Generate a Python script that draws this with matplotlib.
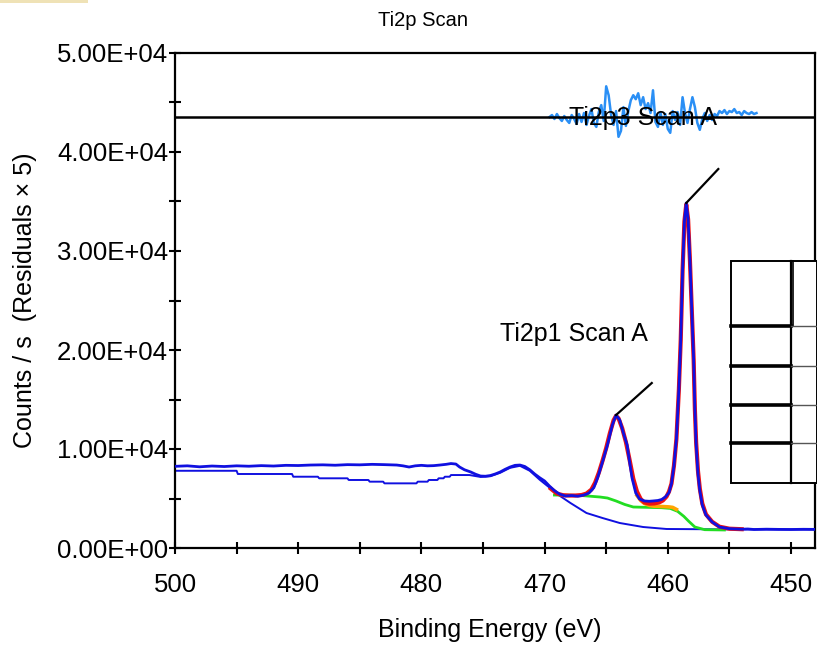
import numpy as np
import matplotlib
matplotlib.use("Agg")
import matplotlib.pyplot as plt
from matplotlib.patches import Rectangle
from matplotlib.lines import Line2D
from matplotlib.ticker import MultipleLocator, FuncFormatter

plt.rcParams['font.family'] = ['Liberation Sans', 'DejaVu Sans']

# ---- measured Ti2p spectrum (binding energy in eV, counts/s) ----
be_data = [500.0, 499.0, 498.0, 497.0, 496.0, 495.0, 494.0, 493.0, 492.0, 491.0,
           490.0, 489.0, 488.0, 487.0, 486.0, 485.0, 484.0, 483.0, 482.0, 481.5,
           481.0, 480.5, 480.0, 479.5, 479.0, 478.5, 478.0, 477.6, 477.2, 476.9,
           476.5, 476.0, 475.6, 475.2, 474.8, 474.4, 474.0, 473.6, 473.2, 472.8,
           472.4, 472.0, 471.6, 471.2, 470.8, 470.4, 470.0, 469.6, 469.2, 468.8,
           468.3, 467.8, 467.3, 466.8, 466.4, 466.0, 465.7, 465.3, 464.9, 464.5,
           464.2, 463.9, 463.6, 463.3, 463.1, 462.9, 462.6, 462.3, 461.9, 461.5,
           461.2, 460.8, 460.5, 460.2, 459.9, 459.7, 459.5, 459.3, 459.1, 458.95,
           458.8, 458.65, 458.5, 458.35, 458.2, 458.05, 457.9, 457.8, 457.7, 457.55,
           457.4, 457.2, 456.9, 456.4, 455.8, 455.0, 454.0, 453.5, 453.0, 452.0,
           451.0, 450.0, 449.0, 448.0]
counts_data = [8250, 8300, 8200, 8280, 8230, 8300, 8260, 8320, 8280, 8350,
               8330, 8380, 8400, 8360, 8420, 8400, 8450, 8420, 8380, 8300,
               8180, 8300, 8350, 8300, 8320, 8380, 8450, 8530, 8480, 8180,
               7900, 7680, 7450, 7270, 7250, 7320, 7480, 7680, 7950, 8180,
               8350, 8380, 8230, 7900, 7470, 7100, 6770, 6250, 5800, 5450,
               5250, 5300, 5230, 5350, 5550, 6100, 7070, 8690, 10400, 12420,
               13430, 12930, 11600, 10400, 8690, 7070, 5555, 4950, 4750, 4720,
               4750, 4800, 4900, 5150, 5600, 6500, 8300, 11000, 16000, 21000,
               28000, 33000, 34850, 33200, 29000, 24000, 19000, 14000, 10500, 7500,
               5800, 4340, 3330, 2630, 2120, 1950, 1900, 1920, 1870, 1900,
               1880, 1870, 1890, 1880]

# ---- fitted envelope ----
be_env = [469.5, 469.0, 468.5, 468.0, 467.5, 467.0, 466.6, 466.2, 465.9, 465.6,
          465.3, 465.0, 464.7, 464.4, 464.2, 464.0, 463.7, 463.4, 463.1, 462.8,
          462.5, 462.2, 461.9, 461.5, 461.1, 460.7, 460.4, 460.1, 459.9, 459.7,
          459.5, 459.3, 459.1, 458.95, 458.8, 458.65, 458.5, 458.35, 458.2, 458.05,
          457.9, 457.8, 457.7, 457.55, 457.4, 457.2, 456.9, 456.4, 455.8, 455.0,
          454.0]
counts_env = [6000, 5500, 5330, 5300, 5300, 5350, 5500, 5900, 6600, 7600,
              8800, 10100, 11600, 12900, 13350, 13100, 12100, 10700, 8900, 7000,
              5700, 4950, 4600, 4480, 4500, 4600, 4800, 5200, 5700, 6500,
              8300, 11000, 16000, 21000, 28000, 33000, 34700, 33200, 29000, 24000,
              19000, 14000, 10700, 7800, 6000, 4500, 3400, 2650, 2150, 1950,
              1900]

# ---- Ti2p1 component on its background ----
be_comp = [462.5, 462.2, 461.9, 461.5, 461.1, 460.7, 460.3, 459.9, 459.6, 459.3]
counts_comp = [5300, 4800, 4500, 4300, 4220, 4200, 4180, 4150, 4100, 3900]

# ---- Shirley background of the fit region ----
be_shirley = [469.2, 468.0, 467.0, 466.5, 465.5, 464.9, 464.2, 463.5, 462.8, 461.5,
              460.5, 459.8, 459.2, 458.7, 458.3, 457.8, 457.0, 455.4]
counts_shirley = [5350, 5330, 5300, 5250, 5150, 5050, 4750, 4400, 4140, 4100,
                  4070, 4000, 3700, 3200, 2700, 2120, 1850, 1820]

# ---- background over the whole scan ----
be_bg = [500.0, 495.0, 494.9, 490.5, 490.4, 488.4, 488.3, 486.0, 485.9, 484.3,
         484.2, 483.1, 483.0, 480.4, 480.3, 479.5, 479.4, 478.7, 478.6, 478.2,
         478.1, 477.7, 477.6, 476.1, 475.2, 474.4, 473.6, 472.8, 472.0, 471.2,
         470.4, 469.6, 468.8, 467.9, 466.6, 465.3, 463.9, 462.0, 460.1, 455.0,
         448.0]
counts_bg = [7800, 7800, 7475, 7475, 7200, 7200, 7040, 7040, 6870, 6870,
             6700, 6700, 6530, 6530, 6700, 6700, 6870, 6870, 7040, 7040,
             7200, 7200, 7370, 7370, 7180, 7250, 7600, 8100, 8300, 7800,
             6900, 6100, 5300, 4545, 3535, 3030, 2525, 2120, 1920, 1880,
             1870]

# ---- fit residuals (counts/s, shown magnified x5 around an offset) ----
residual_offset = 43535
be_res = [469.6 - 0.2 * i for i in range(85)]
residuals = [0, 40, -40, 60, -20, -80, 20, -60, -120, 40,
             -40, -140, 60, -100, 80, -160, 20, 160, -120, -200,
             100, 240, -80, 620, 440, 40, -160, 120, -400, -280,
             200, -180, 120, 340, 440, 360, 480, 240, 400, 160,
             280, 80, 540, -100, -200, 100, -160, 60, -240, -320,
             120, -60, 100, -160, 400, 80, -120, 160, 400, 200,
             -120, -260, -40, 80, -80, 40, -60, 60, 20, 120,
             80, 140, 60, 120, 100, 160, 80, 100, 40, 120,
             80, 60, 100, 60, 80]

W, H = 817, 649
fig = plt.figure(figsize=(W / 100, H / 100), dpi=100)
ax = fig.add_axes([175 / W, 1 - 548 / H, (815 - 175) / W, (548 - 53) / H])

blue = '#1010e0'
ax.plot(be_bg, counts_bg, color=blue, lw=1.4, zorder=2)
ax.plot(be_shirley, counts_shirley, color='#22dd22', lw=2.0, zorder=3)
ax.plot(be_comp, counts_comp, color='#ffa500', lw=2.6, zorder=3)
ax.plot(be_env, counts_env, color='#ee1111', lw=3.0, zorder=4)
ax.plot(be_data, counts_data, color=blue, lw=2.0, zorder=5)

res_y = [residual_offset + 5 * r for r in residuals]
ax.plot(be_res, res_y, color='#2a8ff5', lw=1.8, zorder=5)
ax.axhline(residual_offset, color='black', lw=1.8, zorder=6)

# peak labels with leader lines
i3 = int(np.argmax(counts_data))
ax.plot([be_data[i3], 455.9], [counts_data[i3], 38280], color='black', lw=1.6, zorder=7)
ax.text(462.0, 43400, 'Ti2p3 Scan A', fontsize=18, ha='center', va='center', zorder=8)
i1 = be_data.index(464.2)
ax.plot([be_data[i1], 461.3], [counts_data[i1], 16665], color='black', lw=1.6, zorder=7)
ax.text(467.6, 21600, 'Ti2p1 Scan A', fontsize=18, ha='center', va='center', zorder=8)

ax.set_xlim(500, 448.05)
ax.set_ylim(0, 50000)
ax.xaxis.set_major_locator(MultipleLocator(10))
ax.xaxis.set_minor_locator(MultipleLocator(5))
ax.yaxis.set_major_locator(MultipleLocator(10000))
ax.yaxis.set_minor_locator(MultipleLocator(5000))
ax.yaxis.set_major_formatter(FuncFormatter(lambda v, p: f"{v:.2E}"))
ax.xaxis.set_major_formatter(FuncFormatter(lambda v, p: f"{v:.0f}"))
for which in ('major', 'minor'):
    ax.tick_params(axis='both', which=which, direction='inout', length=8, width=1.5,
                   labelsize=18.5, color='black')
ax.tick_params(axis='y', which='major', pad=1)
ax.tick_params(axis='x', which='major', pad=14)
for s in ax.spines.values():
    s.set_linewidth(1.6)

fig.text(423 / W, 1 - 20 / H, 'Ti2p Scan', fontsize=14.5, ha='center', va='center')
fig.text(490 / W, 1 - 630 / H, 'Binding Energy (eV)', fontsize=18, ha='center', va='center')
fig.text(25 / W, 1 - 300 / H, 'Counts / s  (Residuals \u00d7 5)', fontsize=18,
         ha='center', va='center', rotation=90)

# legend table frame on the right
def fx(x):
    return x / W

def fy(y):
    return 1 - y / H

fig.add_artist(Rectangle((fx(730.5), fy(482.5)), fx(817) - fx(730.5), fy(260.5) - fy(482.5),
                         transform=fig.transFigure, facecolor='white', edgecolor='black',
                         lw=1.4, zorder=10))
fig.add_artist(Line2D([fx(791), fx(791)], [fy(260.5), fy(482.5)], transform=fig.transFigure,
                      color='black', lw=1.6, zorder=11))
fig.add_artist(Line2D([fx(793), fx(793)], [fy(260.5), fy(326)], transform=fig.transFigure,
                      color='black', lw=1.2, zorder=11))
for yy in (326, 366, 405, 443):
    fig.add_artist(Line2D([fx(730.5), fx(791)], [fy(yy), fy(yy)], transform=fig.transFigure,
                          color='black', lw=2.6, zorder=11))
    fig.add_artist(Line2D([fx(791), fx(817)], [fy(yy), fy(yy)], transform=fig.transFigure,
                          color='#555555', lw=1.0, zorder=11))

# small header strip in the top-left corner
fig.add_artist(Rectangle((0, fy(3)), fx(88), fy(0) - fy(3), transform=fig.transFigure,
                         facecolor='#efe2b6', edgecolor='none', zorder=10))

fig.savefig('out.png', dpi=100)
